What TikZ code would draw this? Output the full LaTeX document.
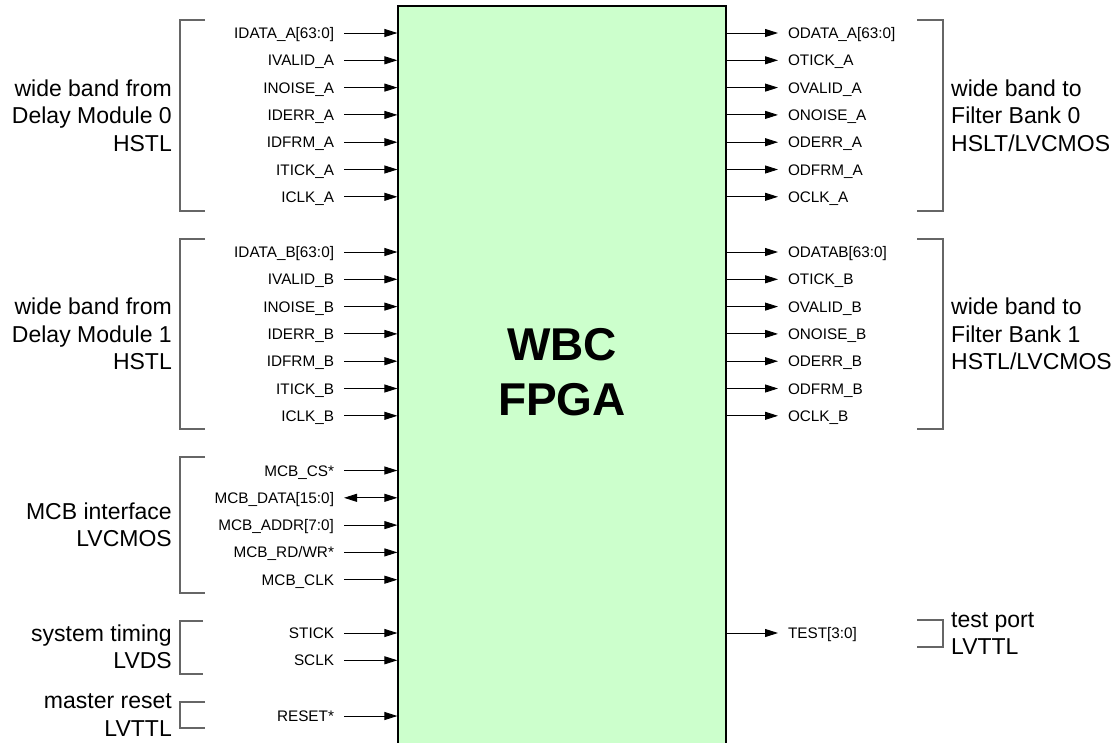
\documentclass[tikz,border=0pt]{standalone}
\usepackage{fontspec}
\setmainfont{Liberation Sans}
\usepackage{tikz}
\usepackage{xcolor}
\usetikzlibrary{positioning,arrows.meta}

\definecolor{fpgagreen}{HTML}{CCFFCC}

\begin{document}
\begin{tikzpicture}[
          x=1pt, y=-1pt,
          node distance=27.3pt,
          fpga/.style={draw, line width=1.2pt, fill=fpgagreen, minimum width=328pt, minimum height=754pt, inner sep=0pt},
          title/.style={font=\fontsize{46}{55}\selectfont\bfseries, align=center, inner sep=0pt},
          insig/.style={anchor=east, font=\fontsize{15.3}{18}\selectfont, inner xsep=5pt, outer xsep=5pt, inner ysep=0pt, text height=12pt, text depth=1pt},
          outsig/.style={insig, anchor=west},
          nextin/.style={below=of #1.east, anchor=east},
          nextout/.style={below=of #1.west, anchor=west},
          grp/.style={font=\fontsize{23}{27.5}\selectfont, inner sep=0pt},
          brk/.style={draw=black!60, line width=1.2pt},
          arr/.style={-{Triangle[length=13pt, width=8pt]}, line width=0.9pt},
          darr/.style={{Triangle[length=13pt, width=8pt]}-{Triangle[length=13pt, width=8pt]}, line width=0.9pt}
      ]
        \useasboundingbox (0,0) rectangle (1118,742);
        \node[fpga] (fpga) at (562,383) {};
        \node[title] (wbc) at (562,372) {WBC\\FPGA};

        % inputs from delay module 0
        \node[insig] (idataA) at (344,33) {IDATA\_A[63:0]};
        \node[insig, nextin=idataA] (ivalidA) {IVALID\_A};
        \node[insig, nextin=ivalidA] (inoiseA) {INOISE\_A};
        \node[insig, nextin=inoiseA] (iderrA) {IDERR\_A};
        \node[insig, nextin=iderrA] (idfrmA) {IDFRM\_A};
        \node[insig, nextin=idfrmA] (itickA) {ITICK\_A};
        \node[insig, nextin=itickA] (iclkA) {ICLK\_A};

        % inputs from delay module 1
        \node[insig] (idataB) at (344,252) {IDATA\_B[63:0]};
        \node[insig, nextin=idataB] (ivalidB) {IVALID\_B};
        \node[insig, nextin=ivalidB] (inoiseB) {INOISE\_B};
        \node[insig, nextin=inoiseB] (iderrB) {IDERR\_B};
        \node[insig, nextin=iderrB] (idfrmB) {IDFRM\_B};
        \node[insig, nextin=idfrmB] (itickB) {ITICK\_B};
        \node[insig, nextin=itickB] (iclkB) {ICLK\_B};

        % mcb, timing, reset
        \node[insig] (mcbcs) at (344,470.5) {MCB\_CS*};
        \node[insig, nextin=mcbcs] (mcbdata) {MCB\_DATA[15:0]};
        \node[insig, nextin=mcbdata] (mcbaddr) {MCB\_ADDR[7:0]};
        \node[insig, nextin=mcbaddr] (mcbrdwr) {MCB\_RD/WR*};
        \node[insig, nextin=mcbrdwr] (mcbclk) {MCB\_CLK};
        \node[insig] (stick) at (344,633) {STICK};
        \node[insig, nextin=stick] (sclk) {SCLK};
        \node[insig] (reset) at (344,716) {RESET*};

        % outputs to filter bank 0
        \node[outsig] (odataA) at (778,33) {ODATA\_A[63:0]};
        \node[outsig, nextout=odataA] (otickA) {OTICK\_A};
        \node[outsig, nextout=otickA] (ovalidA) {OVALID\_A};
        \node[outsig, nextout=ovalidA] (onoiseA) {ONOISE\_A};
        \node[outsig, nextout=onoiseA] (oderrA) {ODERR\_A};
        \node[outsig, nextout=oderrA] (odfrmA) {ODFRM\_A};
        \node[outsig, nextout=odfrmA] (oclkA) {OCLK\_A};

        % outputs to filter bank 1
        \node[outsig] (odataB) at (778,252) {ODATAB[63:0]};
        \node[outsig, nextout=odataB] (otickB) {OTICK\_B};
        \node[outsig, nextout=otickB] (ovalidB) {OVALID\_B};
        \node[outsig, nextout=ovalidB] (onoiseB) {ONOISE\_B};
        \node[outsig, nextout=onoiseB] (oderrB) {ODERR\_B};
        \node[outsig, nextout=oderrB] (odfrmB) {ODFRM\_B};
        \node[outsig, nextout=odfrmB] (oclkB) {OCLK\_B};
        \node[outsig] (test) at (778,633) {TEST[3:0]};

        \draw[arr] (idataA) -- (idataA -| fpga.west);
        \draw[arr] (ivalidA) -- (ivalidA -| fpga.west);
        \draw[arr] (inoiseA) -- (inoiseA -| fpga.west);
        \draw[arr] (iderrA) -- (iderrA -| fpga.west);
        \draw[arr] (idfrmA) -- (idfrmA -| fpga.west);
        \draw[arr] (itickA) -- (itickA -| fpga.west);
        \draw[arr] (iclkA) -- (iclkA -| fpga.west);
        \draw[arr] (idataB) -- (idataB -| fpga.west);
        \draw[arr] (ivalidB) -- (ivalidB -| fpga.west);
        \draw[arr] (inoiseB) -- (inoiseB -| fpga.west);
        \draw[arr] (iderrB) -- (iderrB -| fpga.west);
        \draw[arr] (idfrmB) -- (idfrmB -| fpga.west);
        \draw[arr] (itickB) -- (itickB -| fpga.west);
        \draw[arr] (iclkB) -- (iclkB -| fpga.west);
        \draw[arr] (mcbcs) -- (mcbcs -| fpga.west);
        \draw[darr] (mcbdata) -- (mcbdata -| fpga.west);
        \draw[arr] (mcbaddr) -- (mcbaddr -| fpga.west);
        \draw[arr] (mcbrdwr) -- (mcbrdwr -| fpga.west);
        \draw[arr] (mcbclk) -- (mcbclk -| fpga.west);
        \draw[arr] (stick) -- (stick -| fpga.west);
        \draw[arr] (sclk) -- (sclk -| fpga.west);
        \draw[arr] (reset) -- (reset -| fpga.west);

        \draw[arr] (odataA -| fpga.east) -- (odataA);
        \draw[arr] (otickA -| fpga.east) -- (otickA);
        \draw[arr] (ovalidA -| fpga.east) -- (ovalidA);
        \draw[arr] (onoiseA -| fpga.east) -- (onoiseA);
        \draw[arr] (oderrA -| fpga.east) -- (oderrA);
        \draw[arr] (odfrmA -| fpga.east) -- (odfrmA);
        \draw[arr] (oclkA -| fpga.east) -- (oclkA);
        \draw[arr] (odataB -| fpga.east) -- (odataB);
        \draw[arr] (otickB -| fpga.east) -- (otickB);
        \draw[arr] (ovalidB -| fpga.east) -- (ovalidB);
        \draw[arr] (onoiseB -| fpga.east) -- (onoiseB);
        \draw[arr] (oderrB -| fpga.east) -- (oderrB);
        \draw[arr] (odfrmB -| fpga.east) -- (odfrmB);
        \draw[arr] (oclkB -| fpga.east) -- (oclkB);
        \draw[arr] (test -| fpga.east) -- (test);

        % group brackets and labels
        \draw[brk] (205,20) -| (180,211) -- (205,211);
        \draw[brk] (205,239) -| (180,429) -- (205,429);
        \draw[brk] (205,457) -| (180,593) -- (205,593);
        \draw[brk] (203,621) -| (180,674) -- (203,674);
        \draw[brk] (205,702) -| (180,728) -- (205,728);
        \draw[brk] (917,20) -| (943,211) -- (917,211);
        \draw[brk] (917,239) -| (943,429) -- (917,429);
        \draw[brk] (917,620) -| (943,647) -- (917,647);

        \node[grp, anchor=east, align=right] (dm0) at (172,115.5) {wide band from\\Delay Module 0\\HSTL};
        \node[grp, anchor=east, align=right] (dm1) at (172,334) {wide band from\\Delay Module 1\\HSTL};
        \node[grp, anchor=east, align=right] (mcb) at (172,525) {MCB interface\\LVCMOS};
        \node[grp, anchor=east, align=right] (systime) at (172,647) {system timing\\LVDS};
        \node[grp, anchor=east, align=right] (mreset) at (172,715) {master reset\\LVTTL};
        \node[grp, anchor=west, align=left] (fb0) at (951,115.5) {wide band to\\Filter Bank 0\\HSLT/LVCMOS};
        \node[grp, anchor=west, align=left] (fb1) at (951,334) {wide band to\\Filter Bank 1\\HSTL/LVCMOS};
        \node[grp, anchor=west, align=left] (tport) at (951,633.5) {test port\\LVTTL};
      \end{tikzpicture}
\end{document}
